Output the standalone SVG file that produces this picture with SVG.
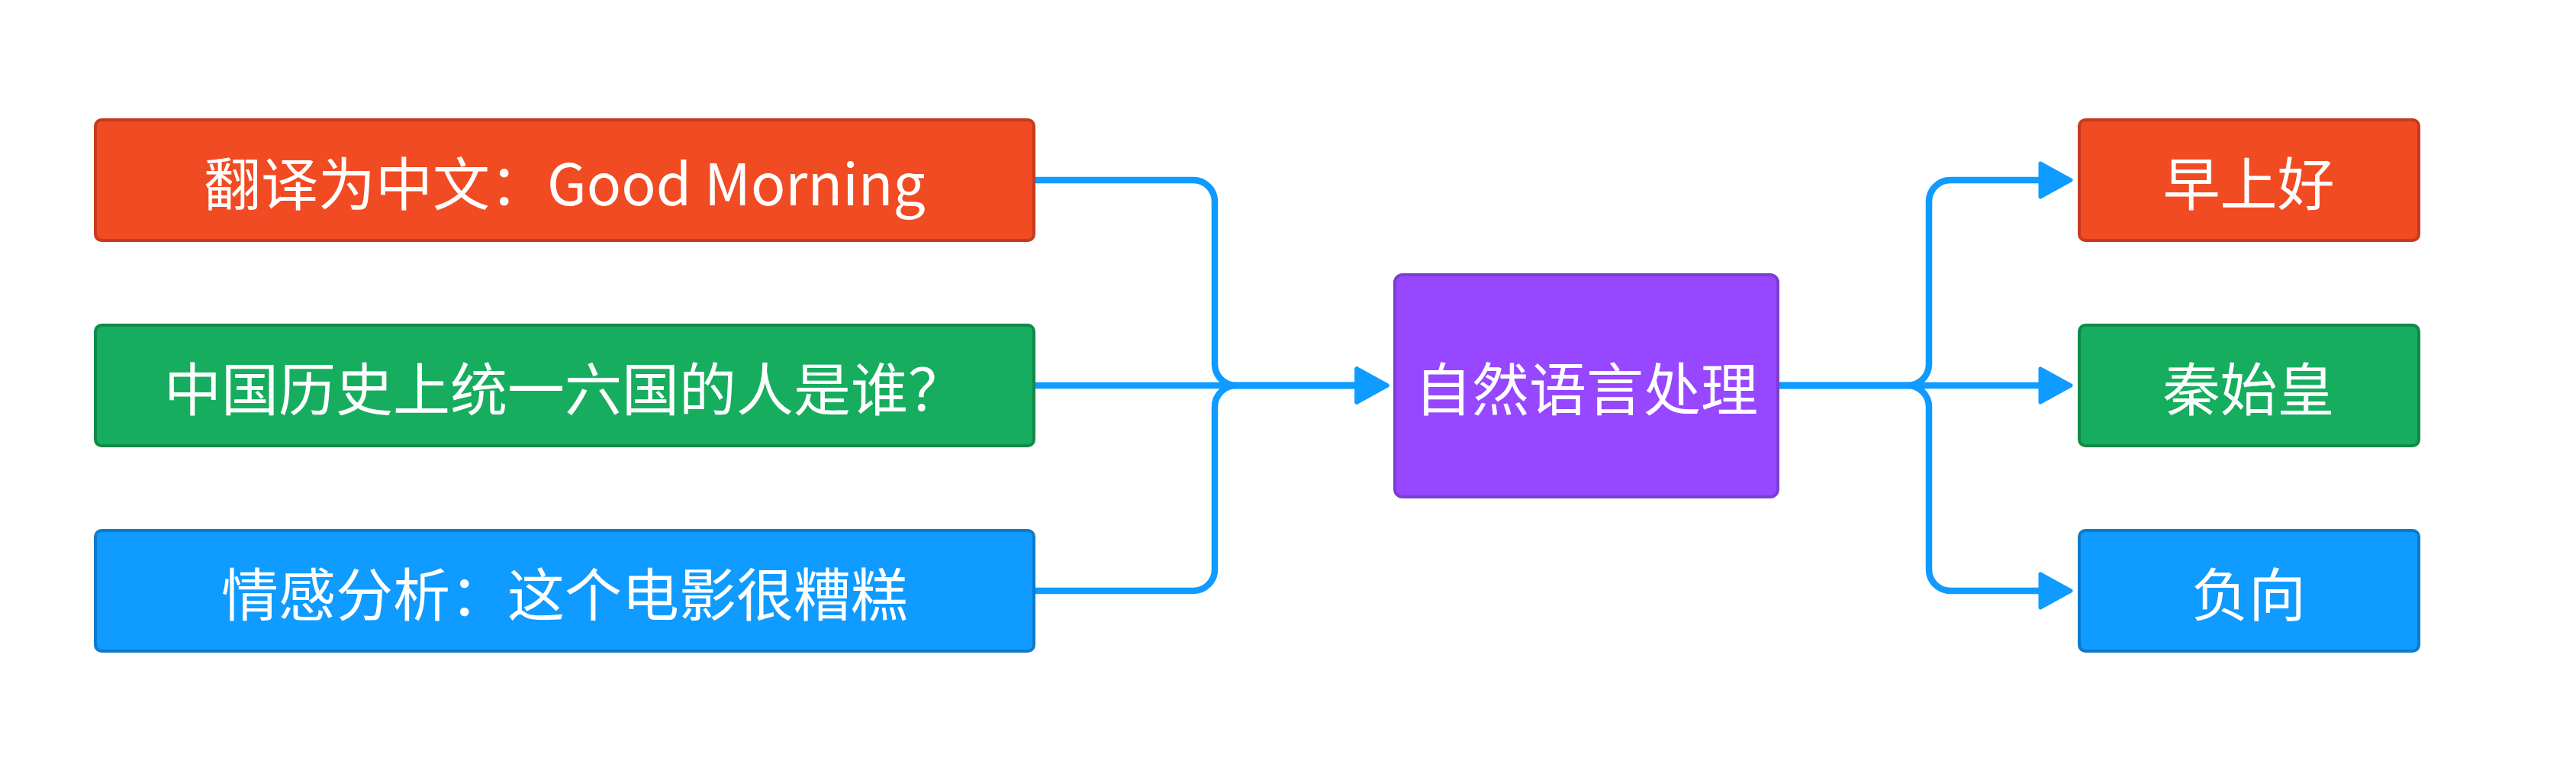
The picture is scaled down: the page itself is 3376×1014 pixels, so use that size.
<svg xmlns="http://www.w3.org/2000/svg" width="3376" height="1014" viewBox="0 0 3376 1014">
<style>
.node rect{stroke-width:4}
.red rect{fill:#f14b23;stroke:#c63b1f}
.green rect{fill:#17ad5e;stroke:#12894a}
.blue rect{fill:#0f9bff;stroke:#0d7acc}
.purple rect{fill:#9747ff;stroke:#7b3fd0}
.node text{fill:#ffffff;font-family:"Noto Sans CJK SC","Noto Sans",sans-serif;font-size:75px;text-anchor:middle;dominant-baseline:central}
.conn path{fill:none;stroke:#0f9bff;stroke-width:8.5;stroke-linecap:round;stroke-linejoin:round}
</style>
<defs>
<marker id="arrow" markerUnits="userSpaceOnUse" viewBox="0 0 50 50" markerWidth="50" markerHeight="50" refX="3" refY="25" orient="auto" overflow="visible">
<path d="M3,3 L43,25 L3,47 Z" fill="#0f9bff" stroke="#0f9bff" stroke-width="5" stroke-linejoin="round"/>
</marker>
</defs>
<rect width="3376" height="1014" fill="#ffffff"/>
<g id="connectors" class="conn">
<path d="M1355 236 H1564 A28 28 0 0 1 1592 264 V477 A28 28 0 0 0 1620 505 H1778" marker-end="url(#arrow)"/>
<path d="M1355 505 H1778" marker-end="url(#arrow)"/>
<path d="M1355 774 H1564 A28 28 0 0 0 1592 746 V533 A28 28 0 0 1 1620 505 H1778" marker-end="url(#arrow)"/>
<path d="M2330 505 H2500 A28 28 0 0 0 2528 477 V264 A28 28 0 0 1 2556 236 H2674" marker-end="url(#arrow)"/>
<path d="M2330 505 H2674" marker-end="url(#arrow)"/>
<path d="M2330 505 H2500 A28 28 0 0 1 2528 533 V746 A28 28 0 0 0 2556 774 H2674" marker-end="url(#arrow)"/>
</g>
<g id="n_translate" class="node red"><rect x="125" y="157" width="1230" height="158" rx="8"/><text x="740" y="236">翻译为中文：Good Morning</text></g>
<g id="n_history" class="node green"><rect x="125" y="426" width="1230" height="158" rx="8"/><text x="740" y="505">中国历史上统一六国的人是谁？</text></g>
<g id="n_sentiment" class="node blue"><rect x="125" y="695" width="1230" height="158" rx="8"/><text x="740" y="774">情感分析：这个电影很糟糕</text></g>
<g id="n_nlp" class="node purple"><rect x="1828" y="360" width="502" height="291" rx="10"/><text x="2079" y="505">自然语言处理</text></g>
<g id="n_morning" class="node red"><rect x="2725" y="157" width="445" height="158" rx="8"/><text x="2947" y="236">早上好</text></g>
<g id="n_qin" class="node green"><rect x="2725" y="426" width="445" height="158" rx="8"/><text x="2947" y="505">秦始皇</text></g>
<g id="n_negative" class="node blue"><rect x="2725" y="695" width="445" height="158" rx="8"/><text x="2947" y="774">负向</text></g>
</svg>
